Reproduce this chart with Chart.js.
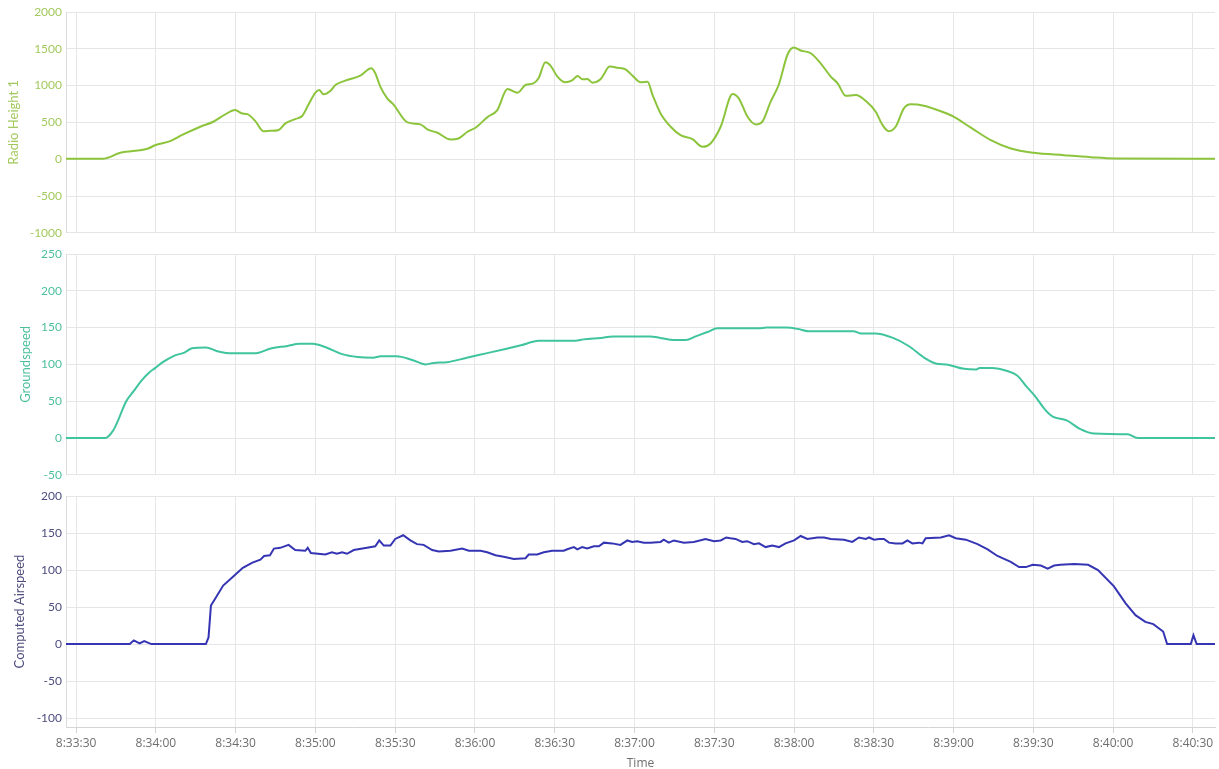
<!DOCTYPE html>
<html>
<head>
<meta charset="utf-8">
<script src="https://cdn.jsdelivr.net/npm/chart.js@4.4.1/dist/chart.umd.min.js"></script>
<style>
  html, body { margin: 0; padding: 0; background: #fff; overflow: hidden; }
  body { width: 1219px; height: 769px; position: relative; }
  .panel { position: absolute; left: 0; width: 1219px; }
</style>
</head>
<body>
<div class="panel" style="top:0;height:244px"><canvas id="heightChart"></canvas></div>
<div class="panel" style="top:240px;height:246px"><canvas id="groundChart"></canvas></div>
<div class="panel" style="top:480px;height:300px"><canvas id="airChart"></canvas></div>

<script>
// Время: секунды после 8:33:30
const START = 8 * 3600 + 33 * 60 + 30;

// Radio Height 1
const heightTime = [-4, 10, 16.6, 27.1, 29.7, 35.4, 40.3, 46.7, 51.6, 56.1, 59.8, 62.5, 64.4, 67.4, 70.4, 73, 76, 78.7, 82.4, 85.1,
  87.3, 90, 91.5, 93, 95.6, 97.5, 101.2, 106.9, 111, 112.5, 114.4, 117, 119.3, 124.6, 129.5, 132.1, 135.9, 140.8, 143.8, 147.2,
  150.2, 154.7, 158.4, 162.2, 166, 169, 172, 173.9, 176.5, 178.4, 181, 184, 186.7, 188.6, 190.4, 192.3, 194.2, 197.2, 198.3, 200.6,
  203.6, 206.6, 209.6, 212.3, 214.9, 216.8, 219.8, 223.6, 227.3, 231.8, 235.6, 238.6, 242.4, 246.9, 249.2, 252.5, 255.6, 258.2, 261.2, 264.2,
  267.6, 269.9, 272.5, 276.3, 280, 283.8, 286.4, 289.4, 293.2, 297, 300.7, 303.3, 305.6, 308.2, 311.3, 313.9, 318.8, 324, 330, 336.5,
  344, 351.5, 360.2, 371.5, 381.6, 390.3, 430];
const heightValues = [5, 5, 87, 146, 190, 245, 336, 441, 509, 609, 667, 622, 613, 518, 381, 386, 394, 486, 545, 590,
  735, 904, 940, 881, 926, 1008, 1067, 1135, 1235, 1167, 986, 827, 745, 500, 473, 405, 359, 268, 282, 373,
  428, 572, 667, 954, 904, 1008, 1031, 1099, 1317, 1272, 1122, 1045, 1076, 1131, 1085, 1090, 1040, 1085, 1144, 1258,
  1244, 1221, 1122, 1045, 1053, 871, 622, 441, 327, 272, 169, 214, 441, 885, 827, 577, 473, 518, 782, 1008,
  1426, 1517, 1476, 1440, 1303, 1122, 1031, 863, 871, 790, 645, 463, 381, 441, 690, 745, 727, 667, 577, 428,
  259, 146, 87, 54, 27, 10, 5];

// Groundspeed
const groundTime = [-4, 11, 13.9, 15.8, 18.7, 21.7, 24.6, 27.5, 29.7, 32.6, 37, 40.7, 43.6, 48.8, 53.1, 59, 67, 73.6, 79.5, 83.9,
  89, 94.1, 100, 105.9, 111.7, 114.6, 120.5, 126.4, 131.5, 134.4, 139.5, 146.9, 154.2, 161.5, 167.3, 174, 179, 187.8, 190.8, 197.4,
  201.8, 215.9, 219.6, 224.8, 229.3, 233, 237.4, 241.2, 256.7, 259.7, 267.1, 271.6, 275.3, 292.3, 295.3, 300.5, 307.2, 313.1, 319, 323.5,
  327.2, 333.9, 338.3, 339.8, 344.3, 350.2, 353.9, 357.6, 360.6, 364.3, 367.3, 372.5, 377.7, 382.9, 395.5, 399.2, 430];
const groundValues = [0, 0, 10, 24, 49, 64, 78, 89, 95, 103, 112, 116, 122, 123, 118, 115, 115, 122, 125, 128,
  128, 123, 114, 110, 109, 111, 111, 106, 100, 102, 103, 109, 115, 121, 126, 132, 132, 132, 134, 136,
  138, 138, 136, 133, 133, 138, 144, 149, 149, 150, 150, 148, 145, 145, 142, 142, 136, 125, 109, 101,
  100, 94, 93, 95, 95, 91, 85, 69, 57, 39, 29, 24, 12, 6, 5, 0, 0];

// Computed Airspeed
const airTime = [-4, 20.2, 21.7, 23.9, 25.6, 28.3, 48.8, 49.8, 50.7, 52.4,
  55.3, 59, 62.7, 66.3, 69.3, 70.7, 72.9, 74.4, 76.8, 79.9,
  82.4, 86.2, 87.1, 88.3, 93.7, 96.2, 98.1, 100, 101.9, 104.4,
  109.4, 112.5, 114, 115.7, 118.2, 120, 123, 125.7, 128.2, 130.7,
  133.9, 136.4, 140.8, 145.2, 147.7, 152.1, 154.6, 157.7, 160.8, 164.6,
  169, 170.2, 173.4, 175.9, 179, 183.4, 184.7, 187.2, 188.5, 190.3,
  192.2, 194.7, 196.6, 198.5, 201.6, 204.7, 207.3, 209.1, 211, 213.5,
  216, 219.8, 221, 222.9, 224.8, 228.6, 232.3, 236.7, 239.9, 242.4,
  244.5, 246.1, 248, 250.5, 252.4, 254.9, 256.8, 259.3, 261.8, 264.3,
  266.8, 270, 272.5, 275, 278.8, 281.3, 283.8, 288.8, 291.9, 294.4,
  297, 298.2, 300.1, 302, 303.8, 305.7, 308.2, 310.8, 312.6, 314.5,
  317, 318.3, 319.5, 325.2, 328.3, 330.8, 334.6, 339, 342.8, 346.5,
  349, 351.5, 354.6, 357.2, 359.7, 362.8, 365.4, 367.8, 370.1, 375.4,
  380.6, 384.3, 390.3, 394.7, 398.4, 402.1, 405.1, 408.8, 410.3, 419.2,
  420.2, 421.4, 430];
const airValues = [0, 0, 5, 1, 4, 0, 0, 9, 52, 62,
  79, 91, 103, 110, 114, 119, 120, 129, 130, 134,
  127, 126, 130, 123, 121, 124, 122, 124, 122, 127,
  130, 132, 140, 133, 133, 142, 147, 140, 135, 134,
  127, 125, 126, 129, 126, 126, 124, 120, 118, 115,
  116, 121, 121, 124, 126, 126, 128, 131, 128, 131,
  129, 132, 132, 137, 136, 134, 140, 138, 139, 137,
  137, 138, 141, 137, 140, 137, 138, 142, 139, 140,
  144, 143, 142, 138, 139, 135, 136, 131, 133, 131,
  136, 140, 146, 142, 144, 144, 142, 141, 138, 144,
  142, 144, 141, 142, 142, 137, 136, 136, 140, 136,
  137, 136, 143, 144, 147, 143, 141, 135, 128, 119,
  115, 111, 104, 104, 107, 106, 102, 106, 107, 108,
  107, 100, 78, 55, 39, 30, 27, 17, 0, 0,
  12, 0, 0];

const X_MIN = START - 3.8;
const X_MAX = START + 428.3;
const GRID = "#e6e6e6";

function fmtTime(v) {
    const h = Math.floor(v / 3600);
    const m = Math.floor((v % 3600) / 60);
    const s = Math.round(v % 60);
    return h + ":" + String(m).padStart(2, "0") + ":" + String(s).padStart(2, "0");
}

function toPoints(times, values) {
    return times.map((t, i) => ({ x: START + t, y: values[i] }));
}

// Один график-панель
function panel(id, opt) {
    const showX = !!opt.showX;
    new Chart(document.getElementById(id), {
        type: "line",
        data: {
            datasets: [{
                data: toPoints(opt.times, opt.values),
                borderColor: opt.line,
                borderWidth: 2,
                pointRadius: 0,
                fill: false,
                tension: opt.smooth ? 0.4 : 0,
                cubicInterpolationMode: opt.smooth ? "monotone" : "default",
            }],
        },
        options: {
            responsive: true,
            maintainAspectRatio: false,
            animation: false,
            layout: { padding: opt.padding },
            plugins: { legend: { display: false }, tooltip: { enabled: false } },
            scales: {
                x: {
                    type: "linear",
                    min: X_MIN,
                    max: X_MAX,
                    ticks: {
                        display: showX,
                        stepSize: 30,
                        includeBounds: false,
                        autoSkip: false,
                        maxRotation: 0,
                        color: "#6e6e6e",
                        font: { family: "Open Sans", size: 12 },
                        padding: 3,
                        callback: fmtTime,
                    },
                    grid: { color: GRID, drawTicks: showX, tickLength: 6, tickColor: "#d4d4d4" },
                    border: { display: showX, color: "#d4d4d4" },
                    title: {
                        display: showX,
                        text: "Time",
                        color: "#6e6e6e",
                        font: { family: "Open Sans", size: 12 },
                        padding: { top: 2, bottom: 9 },
                    },
                    afterFit: (s) => { s.height = opt.xHeight; },
                },
                y: {
                    min: opt.min,
                    max: opt.max,
                    ticks: {
                        stepSize: opt.step,
                        includeBounds: false,
                        color: opt.tick,
                        font: { family: "Lato", size: 12 },
                        padding: 4,
                        callback: (v) => String(v),
                    },
                    grid: { color: GRID, drawTicks: false },
                    border: { color: "#dcdcdc" },
                    title: {
                        display: true,
                        text: opt.title,
                        color: opt.tick,
                        font: { family: "Lato", size: 13 },
                        padding: { top: opt.titlePad, bottom: 0 },
                    },
                    afterFit: (s) => { s.width = 66; },
                },
            },
        },
    });
}

panel("heightChart", {
    times: heightTime, values: heightValues, smooth: true,
    line: "#8cc43c", tick: "#a3c95e", title: "Radio Height 1",
    min: -1000, max: 2000, step: 500, titlePad: 6,
    padding: { top: 12, right: 4, bottom: 10, left: 0 }, xHeight: 0,
});

panel("groundChart", {
    times: groundTime, values: groundValues, smooth: true,
    line: "#3fc49d", tick: "#4dbf9d", title: "Groundspeed",
    min: -50, max: 250, step: 50, titlePad: 18,
    padding: { top: 14, right: 4, bottom: 10, left: 0 }, xHeight: 0,
});

panel("airChart", {
    times: airTime, values: airValues, smooth: false, showX: true,
    line: "#3535b4", tick: "#4d4d7d", title: "Computed Airspeed",
    min: -112, max: 200, step: 50, titlePad: 12,
    padding: { top: 16, right: 4, bottom: 0, left: 0 }, xHeight: 53,
});
</script>
</body>
</html>
